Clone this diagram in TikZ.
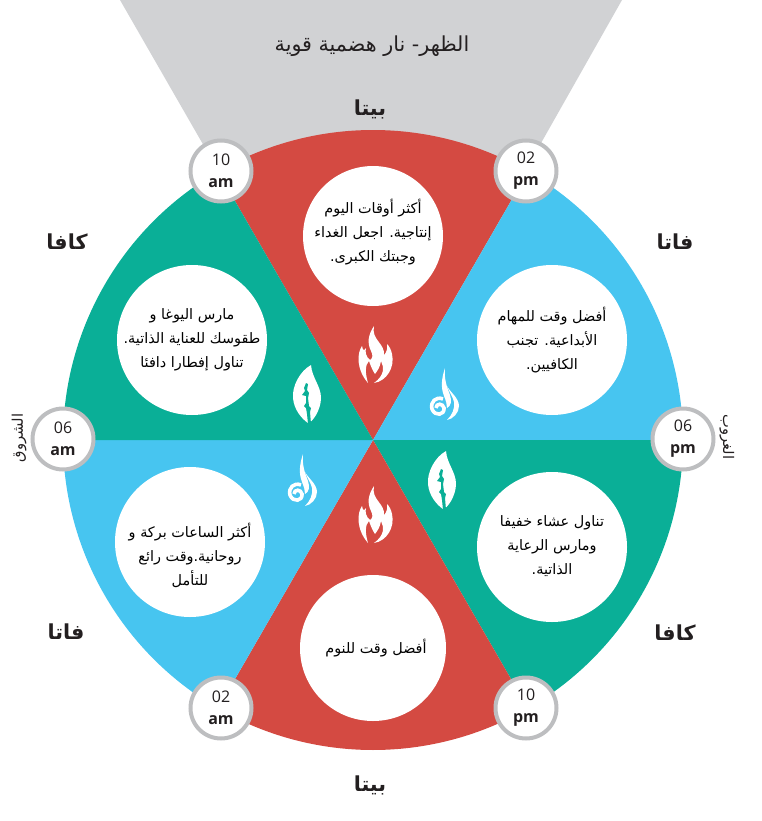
\documentclass[tikz,border=0pt]{standalone}
\usepackage{fontspec}
\TeXXeTstate=1
\newfontfamily\arfont[Script=Arabic]{DejaVu Sans}
\setmainfont{Open Sans}
\definecolor{redc}{HTML}{D44A42}
\definecolor{bluec}{HTML}{47C5F0}
\definecolor{greenc}{HTML}{0AAF97}
\definecolor{grayc}{HTML}{D1D2D4}
\definecolor{ringc}{HTML}{BDBEC0}
\definecolor{inkc}{HTML}{231F20}
\tikzset{
  x=0.75pt,y=-0.75pt,
  disc/.style={circle,fill=white,draw=none,inner sep=0pt,minimum size=#1*0.75pt},
  clock/.style={circle,fill=white,draw=ringc,line width=3pt,inner sep=0pt,minimum size=61*0.75pt,align=center,text=inkc,font=\fontsize{12}{17.5}\selectfont},
  bodytext/.style={align=center,text=black,font=\arfont\fontsize{10.8}{18}\selectfont},
  headtext/.style={text=inkc,font=\arfont\bfseries\fontsize{15.5}{18}\selectfont},
  sidetext/.style={text=inkc,font=\arfont\fontsize{11}{12}\selectfont},
}
\newcommand{\flameicon}[2]{\begin{scope}[shift={(#1,#2)}]
\fill[white] (-1,-29) .. controls (-7,-20) and (-8,-12) .. (-4,-4) .. controls (-2,0) and (-2,3) .. (-5,5) .. controls (-9,2) and (-10,-3) .. (-9,-7) .. controls (-11,-4) and (-12,-4) .. (-13,-9) .. controls (-18,-2) and (-19,14) .. (-7,28) .. controls (-10,18) and (-10,10) .. (-6,6) .. controls (-4,12) and (-2,16) .. (0,19) .. controls (3,15) and (5,12) .. (6,6) .. controls (9,12) and (10,20) .. (-1,28) .. controls (12,26) and (20,12) .. (17,-1) .. controls (16,-6) and (14,-9) .. (12,-11) .. controls (13,-6) and (11,-2) .. (9,0) .. controls (10,-12) and (-4,-15) .. (-1,-29) -- cycle;
\end{scope}}
\newcommand{\leaficon}[2]{\begin{scope}[shift={(#1,#2)}]
\fill[white] (4,-29) .. controls (-7,-23) and (-15,-8) .. (-14,4) .. controls (-13,16) and (-5,25) .. (1,29) .. controls (5,29) and (14,16) .. (14,4) .. controls (14,-8) and (5,-16) .. (4,-29) -- cycle;
\fill[greenc] (-1,-11) -- (1,-10) -- (0,-4) -- (2,-1) -- (1,4) -- (2,12) -- (4,14) -- (3,18) -- (4,30) -- (1,30) -- (0,20) -- (-1,14) -- (-3,12) -- (-1,9) -- (-1,2) -- (-5,1) -- (-2,-3) -- (-3,-6) -- cycle;
\end{scope}}
\newcommand{\wavicon}[2]{\begin{scope}[shift={(#1,#2)}]
\draw[white,line width=2.7pt] (-8,14) .. controls (-8,9) and (-1,9) .. (0,14) .. controls (1,21) and (-9,23) .. (-12,15) .. controls (-14,8) and (-8,2) .. (-1,5);
\fill[white] (1,-26) .. controls (-3,-14) and (-3,-6) .. (0,2) .. controls (2,7) and (3,10) .. (3,14) .. controls (7,12) and (8,7) .. (6,1) .. controls (3,-7) and (0,-14) .. (1,-26) -- cycle;
\fill[white] (3,-8) .. controls (6,-2) and (15,4) .. (15,12) .. controls (15,19) and (9,25) .. (3,26) .. controls (8,21) and (11,15) .. (10,8) .. controls (9,3) and (5,-2) .. (3,-8) -- cycle;
\end{scope}}
\begin{document}
\begin{tikzpicture}
\useasboundingbox (0,0) rectangle (761,821);
\coordinate (ctr) at (373,440);
\fill[grayc] (ctr) -- (120,0) -- (622,0) -- cycle;
\fill[redc] (ctr) -- ++(-120:310) arc[start angle=-120,end angle=-60,radius=310] -- cycle;
\fill[bluec] (ctr) -- ++(-60:310) arc[start angle=-60,end angle=0,radius=310] -- cycle;
\fill[greenc] (ctr) -- ++(0:310) arc[start angle=0,end angle=60,radius=310] -- cycle;
\fill[redc] (ctr) -- ++(60:310) arc[start angle=60,end angle=120,radius=310] -- cycle;
\fill[bluec] (ctr) -- ++(120:310) arc[start angle=120,end angle=180,radius=310] -- cycle;
\fill[greenc] (ctr) -- ++(180:310) arc[start angle=180,end angle=240,radius=310] -- cycle;
\node[disc=140] (d1) at (373,236) {};
\node[disc=150] (d2) at (552,340) {};
\node[disc=150] (d3) at (552,547) {};
\node[disc=146] (d4) at (373,648) {};
\node[disc=150] (d5) at (190,542) {};
\node[disc=150] (d6) at (192,340) {};
\node[bodytext] at (373,232) {\beginR أكثر أوقات اليوم\endR\\\beginR إنتاجية. اجعل الغداء\endR\\\beginR وجبتك الكبرى.\endR};
\node[bodytext] at (d2) {\beginR أفضل وقت للمهام\endR\\\beginR الأبداعية. تجنب\endR\\\beginR الكافيين.\endR};
\node[bodytext] at (552,546) {\beginR تناول عشاء خفيفا\endR\\\beginR ومارس الرعاية\endR\\\beginR الذاتية.\endR};
\node[bodytext] at (376,648) {\beginR أفضل وقت للنوم\endR};
\node[bodytext] at (190,555) {\beginR أكثر الساعات بركة و\endR\\\beginR روحانية.وقت رائع\endR\\\beginR للتأمل\endR};
\node[bodytext] at (d6) {\beginR مارس اليوغا و\endR\\\beginR طقوسك للعناية الذاتية.\endR\\\beginR تناول إفطارا دافئا\endR};
\flameicon{375}{355}
\flameicon{375}{515}
\leaficon{307}{394}
\leaficon{442}{480}
\wavicon{444}{394}
\wavicon{302}{480}
\node[clock] (c1) at (221,171) {10\\[-1pt]\textbf{am}};
\node[clock] (c2) at (526,171) {02\\[-1pt]\textbf{pm}};
\node[clock] (c3) at (63,439) {06\\[-1pt]\textbf{am}};
\node[clock] (c4) at (683,439) {06\\[-1pt]\textbf{pm}};
\node[clock] (c5) at (221,708) {02\\[-1pt]\textbf{am}};
\node[clock] (c6) at (526,708) {10\\[-1pt]\textbf{pm}};
\node[text=inkc,font=\arfont\fontsize{15.5}{18}\selectfont] (title) at (372,46) {\beginR الظهر- نار هضمية قوية\endR};
\node[headtext] (h1) at (370,109) {\beginR بيتا\endR};
\node[headtext] (h2) at (675,242) {\beginR فاتا\endR};
\node[headtext] (h3) at (675,633) {\beginR كافا\endR};
\node[headtext] (h4) at (370,785) {\beginR بيتا\endR};
\node[headtext] (h5) at (66,632) {\beginR فاتا\endR};
\node[headtext] (h6) at (67,242) {\beginR كافا\endR};
\node[sidetext,rotate=90] (s1) at (19,438) {\beginR الشروق\endR};
\node[sidetext,rotate=-90] (s2) at (727,437) {\beginR الغروب\endR};
\end{tikzpicture}
\end{document}
